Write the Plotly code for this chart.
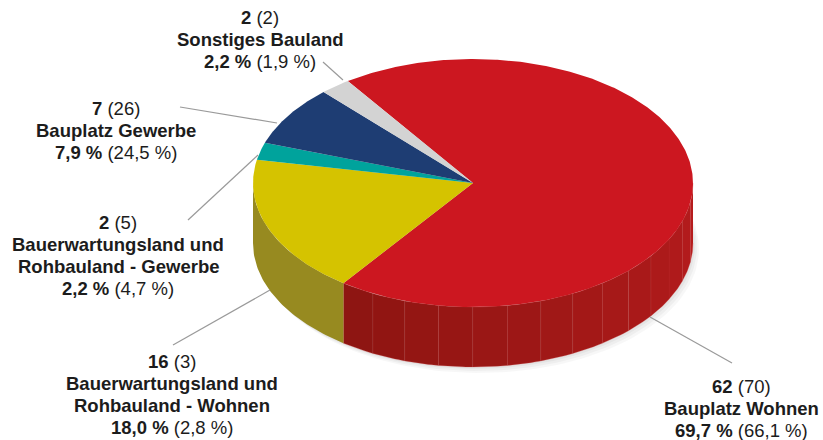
import numpy as np
import plotly.graph_objects as go

# ---- data (clockwise order starting at the large red slice) ----
categories = ["Bauplatz Wohnen", "Bauerwartungsland und|Rohbauland - Wohnen",
              "Bauerwartungsland und|Rohbauland - Gewerbe", "Bauplatz Gewerbe",
              "Sonstiges Bauland"]
counts = [62, 16, 2, 7, 2]
counts_prev = [70, 3, 5, 26, 2]
pct_labels = ["69,7 %", "18,0 %", "2,2 %", "7,9 %", "2,2 %"]
pct_prev_labels = ["66,1 %", "2,8 %", "4,7 %", "24,5 %", "1,9 %"]

# ---- style / layout ----
top_colors = ["#cc1720", "#d5c300", "#00a39c", "#1e3d73", "#d3d3d3"]
side_colors = ["#a81a1a", "#978a20", "#007a75", "#152c55", "#a8a8a8"]
W, H = 823, 440
cx, cy, rx, ry, depth = 473, 183, 220, 124, 60
start_deg = 325.3

label_pos = [(741, 386), (172, 361), (118, 222), (116, 108), (260, 17)]
line_step = 22.0
leader_lines = [((650, 317), (732, 363)), ((270, 290), (173, 345)),
                ((258, 155), (188, 220)), ((277, 123), (180, 107)),
                ((343, 80), (323, 62))]

fig = go.Figure()

def pt(theta_deg, dy=0.0):
    t = np.radians(theta_deg)
    return cx + rx * np.sin(t), cy - ry * np.cos(t) + dy

total = sum(counts)
bounds = [start_deg]
for c in counts:
    bounds.append(bounds[-1] + 360.0 * c / total)

# soft shadow
for a, off in [(0.03, 12), (0.035, 8), (0.04, 4)]:
    th = np.linspace(0, 360, 200)
    xs, ys = pt(th, depth + off * 0.5)
    fig.add_trace(go.Scatter(x=xs + off * 0.5, y=ys, fill="toself", mode="lines",
                             line=dict(width=0), fillcolor=f"rgba(0,0,0,{a})",
                             hoverinfo="skip", showlegend=False))

def wall(a, b, color, edge=None):
    th = np.linspace(a, b, max(3, int(abs(b - a)) + 2))
    xt, yt = pt(th)
    xb, yb = pt(th[::-1], depth)
    fig.add_trace(go.Scatter(x=np.concatenate([xt, xb]), y=np.concatenate([yt, yb]),
                             fill="toself", mode="lines",
                             line=dict(width=0.6 if edge else 0, color=edge or color),
                             fillcolor=color, hoverinfo="skip", showlegend=False))

for i in range(len(counts)):
    a, b = bounds[i], bounds[i + 1]
    for shift in (0, -360, 360):
        lo, hi = max(a + shift, 90), min(b + shift, 270)
        if hi > lo:
            if i == 0:
                n = 14
                edges = np.linspace(lo, hi, n + 1)
                dark = np.array([0x8e, 0x15, 0x12])
                light = np.array([0xb6, 0x1c, 0x1d])
                for j in range(n):
                    f = j / (n - 1)
                    col = light + (dark - light) * f
                    wall(edges[j], edges[j + 1],
                         "rgb(%d,%d,%d)" % tuple(col.astype(int)),
                         edge="rgba(205,70,70,0.45)")
            else:
                wall(lo, hi, side_colors[i])

# top slices
for i in range(len(counts)):
    th = np.linspace(bounds[i], bounds[i + 1], max(3, int(bounds[i + 1] - bounds[i]) * 2 + 2))
    xs, ys = pt(th)
    fig.add_trace(go.Scatter(x=np.concatenate([[cx], xs, [cx]]),
                             y=np.concatenate([[cy], ys, [cy]]),
                             fill="toself", mode="lines", line=dict(width=0),
                             fillcolor=top_colors[i], hoverinfo="skip",
                             showlegend=False))

for (p0, p1) in leader_lines:
    fig.add_shape(type="line", x0=p0[0], y0=p0[1], x1=p1[0], y1=p1[1],
                  xref="x", yref="y", line=dict(color="#9a9a9a", width=1.2))

font = dict(family="Liberation Sans, Arial, sans-serif", size=18.5, color="#1c1c1c")
for i in range(len(counts)):
    lines = [f"<b>{counts[i]}</b> ({counts_prev[i]})"]
    lines += [f"<b>{s}</b>" for s in categories[i].split("|")]
    lines += [f"<b>{pct_labels[i]}</b> ({pct_prev_labels[i]})"]
    x, y = label_pos[i]
    for k, s in enumerate(lines):
        fig.add_annotation(x=x, y=y + k * line_step, xref="x", yref="y", text=s,
                           showarrow=False, xanchor="center", yanchor="middle",
                           font=font)

fig.update_layout(
    width=W, height=H, margin=dict(l=0, r=0, t=0, b=0),
    paper_bgcolor="white", plot_bgcolor="white",
    xaxis=dict(range=[0, W], visible=False, fixedrange=True),
    yaxis=dict(range=[H, 0], visible=False, fixedrange=True),
    showlegend=False,
)
fig.write_html("out.html", config={"displayModeBar": False},
               post_script="document.body.style.margin='0';"
                           "document.body.style.overflow='hidden';")
